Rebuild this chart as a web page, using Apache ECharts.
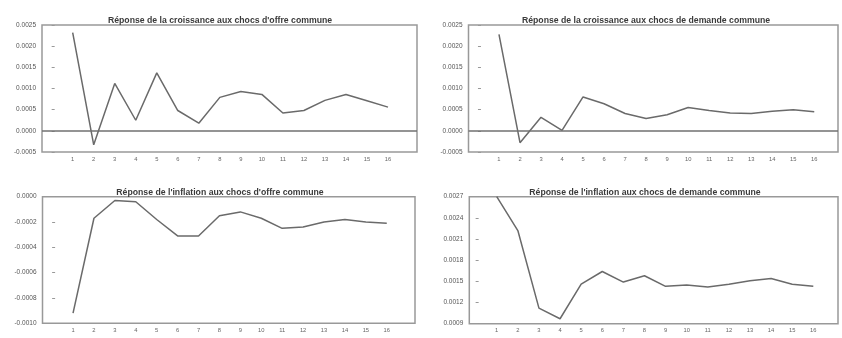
<!DOCTYPE html>
<html>
<head>
<meta charset="utf-8">
<script src="https://cdn.jsdelivr.net/npm/echarts@6/dist/echarts.min.js"></script>
<style>
  html, body { margin: 0; padding: 0; background: #fff; }
  #chart { width: 842px; height: 338px; }
</style>
</head>
<body>
<div id="chart"></div>
<script>
// Horizons (periods after the shock)
const periods = [1, 2, 3, 4, 5, 6, 7, 8, 9, 10, 11, 12, 13, 14, 15, 16];

// Impulse responses
const croissanceOffre = [0.00232, -0.00033, 0.00112, 0.00025, 0.00137, 0.00048, 0.00018, 0.00079,
                         0.00093, 0.00086, 0.00042, 0.00048, 0.00072, 0.00086, 0.00071, 0.00056];
const croissanceDemande = [0.00228, -0.00028, 0.00032, 0.00001, 0.00080, 0.00064, 0.00041, 0.00029,
                           0.00038, 0.00055, 0.00048, 0.00042, 0.00041, 0.00046, 0.00050, 0.00045];
const inflationOffre = [-0.00092, -0.00017, -0.00003, -0.00004, -0.00018, -0.00031, -0.00031, -0.00015,
                        -0.00012, -0.00017, -0.00025, -0.00024, -0.00020, -0.00018, -0.00020, -0.00021];
const inflationDemande = [0.00270, 0.00222, 0.00112, 0.00097, 0.00146, 0.00164, 0.00149, 0.00158,
                          0.00143, 0.00145, 0.00142, 0.00146, 0.00151, 0.00154, 0.00146, 0.00143];

// Panel titles
const titres = [
  "Réponse de la croissance aux chocs d'offre commune",
  "Réponse de la croissance aux chocs de demande commune",
  "Réponse de l'inflation aux chocs d'offre commune",
  "Réponse de l'inflation aux chocs de demande commune"
];

// Vertical scales: [min, max, step]
const echelles = [
  [-0.0005, 0.0025, 0.0005],
  [-0.0005, 0.0025, 0.0005],
  [-0.0010, 0.0000, 0.0002],
  [0.0009, 0.0027, 0.0003]
];

const series = [croissanceOffre, croissanceDemande, inflationOffre, inflationDemande];

// Panel frames in pixels and horizontal extents
const cadres = [
  { left: 42,    top: 25,    width: 375,   height: 127,   xmin: -0.46, xmax: 17.38, titleX: 215 },
  { left: 468.5, top: 25,    width: 369.5, height: 127,   xmin: -0.45, xmax: 17.13, titleX: 641 },
  { left: 42.5,  top: 196.7, width: 372.5, height: 126.6, xmin: -0.46, xmax: 17.35, titleX: 215 },
  { left: 469.3, top: 196.7, width: 368.7, height: 127,   xmin: -0.30, xmax: 17.17, titleX: 640 }
];

const FONT = 'Liberation Sans, Arial, sans-serif';

const option = {
  animation: false,
  backgroundColor: '#fff',
  title: cadres.map((c, i) => ({
    text: titres[i],
    left: c.titleX,
    top: c.top - 14,
    textAlign: 'center',
    textStyle: { fontFamily: FONT, fontSize: 8.7, fontWeight: 'bold', color: '#3a3a3a' }
  })),
  grid: cadres.map(c => ({
    left: c.left, top: c.top, width: c.width, height: c.height,
    show: true, borderColor: '#999', borderWidth: 1.5, backgroundColor: '#fff',
    containLabel: false
  })),
  xAxis: cadres.map((c, i) => ({
    type: 'value',
    gridIndex: i,
    min: c.xmin,
    max: c.xmax,
    axisLine: { show: false },
    axisTick: { show: false },
    splitLine: { show: false },
    axisLabel: {
      customValues: periods,
      fontFamily: FONT, fontSize: 5.8, color: '#666', margin: 4
    }
  })),
  yAxis: echelles.map((e, i) => ({
    type: 'value',
    gridIndex: i,
    min: e[0],
    max: e[1],
    interval: e[2],
    axisLine: { show: false },
    axisTick: { show: true, inside: true, length: 3, lineStyle: { color: '#999', width: 1 } },
    splitLine: { show: false },
    axisLabel: {
      fontFamily: FONT, fontSize: 6.5, color: '#555', margin: 6,
      formatter: v => v.toFixed(4)
    }
  })),
  series: series.map((vals, i) => {
    const s = {
      type: 'line',
      xAxisIndex: i,
      yAxisIndex: i,
      data: periods.map((p, k) => [p, vals[k]]),
      symbol: 'none',
      lineStyle: { color: '#6a6a6a', width: 1.5 },
      silent: true
    };
    if (echelles[i][0] < 0 && echelles[i][1] > 0) {
      s.markLine = {
        silent: true,
        symbol: 'none',
        label: { show: false },
        lineStyle: { color: '#707070', width: 1.6, type: 'solid' },
        data: [{ yAxis: 0 }]
      };
    }
    return s;
  })
};

const chart = echarts.init(document.getElementById('chart'), null, { renderer: 'canvas' });
chart.setOption(option);
</script>
</body>
</html>
